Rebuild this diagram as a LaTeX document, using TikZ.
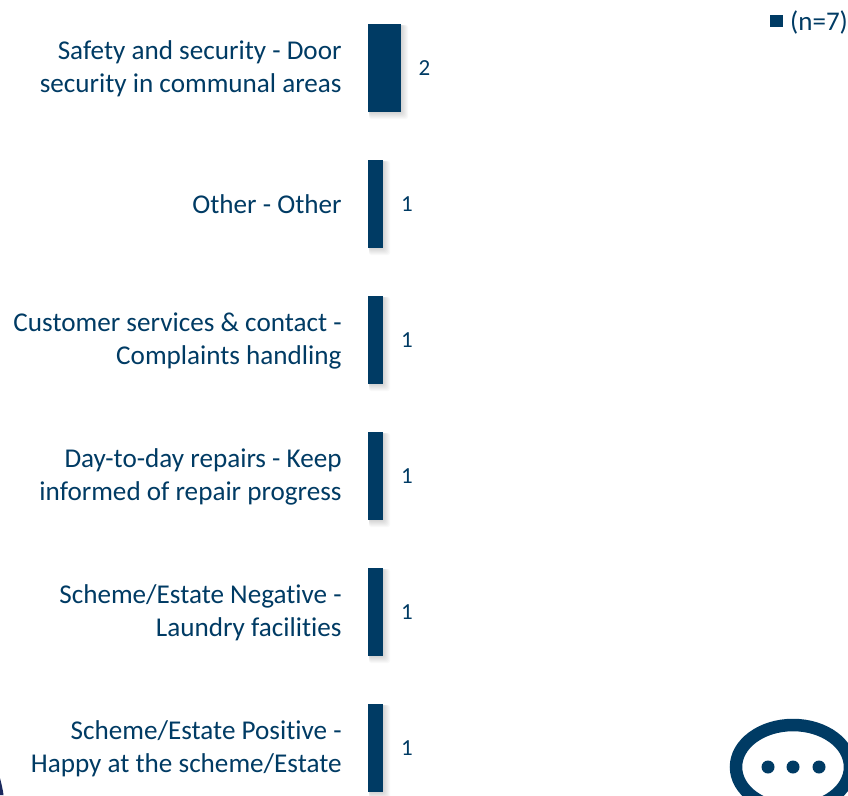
\documentclass[tikz,border=0pt]{standalone}
\usepackage{fontspec}
\usetikzlibrary{shapes.geometric}
\setmainfont{Carlito}[Ligatures=NoCommon]
\definecolor{navy}{HTML}{003B64}
\definecolor{corner}{HTML}{1B2A5E}
\tikzset{
  lab/.style={anchor=east,align=right,text=navy,font=\fontsize{27.15}{32.8}\selectfont,inner sep=0pt},
  val/.style={anchor=center,text=navy,font=\fontsize{23}{27}\selectfont,inner sep=0pt},
  barbox/.style={fill=navy,draw=none,anchor=north west,inner sep=0pt,minimum height=88pt},
  shade/.style={fill=black,fill opacity=0.025,draw=none,rounded corners=2pt},
  bubblering/.style={draw=navy,line width=12.5pt,shape=ellipse,minimum width=114pt,minimum height=84pt,inner sep=0pt},
  dotmark/.style={fill=navy,shape=circle,minimum size=13pt,inner sep=0pt},
}
\newcommand{\barrow}[5]{% name, top y, width, label offset, text
  \foreach \g in {1,2,...,7}{
    \fill[shade] ({368+1},{#2+1}) rectangle ({368+#3+\g},{#2+88+\g});
  }
  \node[barbox,minimum width=#3 pt] (#1) at (368,#2) {};
  \node[lab] (#1l) at (341.8,#2+44.6) {#5};
  \node[val] (#1v) at ({368+#3+#4},#2+44.5) {\ifnum#3>20 2\else 1\fi};
}
\begin{document}
\begin{tikzpicture}[x=1pt,y=-1pt]
\useasboundingbox (0,0) rectangle (848,795);
\clip (0,0) rectangle (848,795);
\fill[white] (0,0) rectangle (848,795);
\barrow{a}{24}{33}{23.5}{Safety and security - Door\\security in communal areas}
\barrow{b}{160}{15}{24}{Other - Other}
\barrow{c}{296}{15}{24}{Customer services \& contact -\\Complaints handling}
\barrow{d}{432}{15}{24}{Day-to-day repairs - Keep\\informed of repair progress}
\barrow{e}{568}{15}{24}{Scheme/Estate Negative -\\Laundry facilities}
\barrow{f}{704}{15}{24}{Scheme/Estate Positive -\\Happy at the scheme/Estate}
\node[fill=navy,minimum size=12.5pt,inner sep=0pt] (key) at (776.5,21) {};
\node[anchor=west,text=navy,font=\fontsize{27}{31}\selectfont,inner sep=0pt] (keyl) at (790,22.5) {(n=7)};
\node[bubblering] (bubble) at (793,767) {};
\node[dotmark] (d1) at (768,767) {};
\node[dotmark] (d2) at (793,767) {};
\node[dotmark] (d3) at (819,767) {};
\fill[corner] (0,778) .. controls (1.5,784) and (3,790) .. (3.5,795) -- (0,795) -- cycle;
\end{tikzpicture}
\end{document}
